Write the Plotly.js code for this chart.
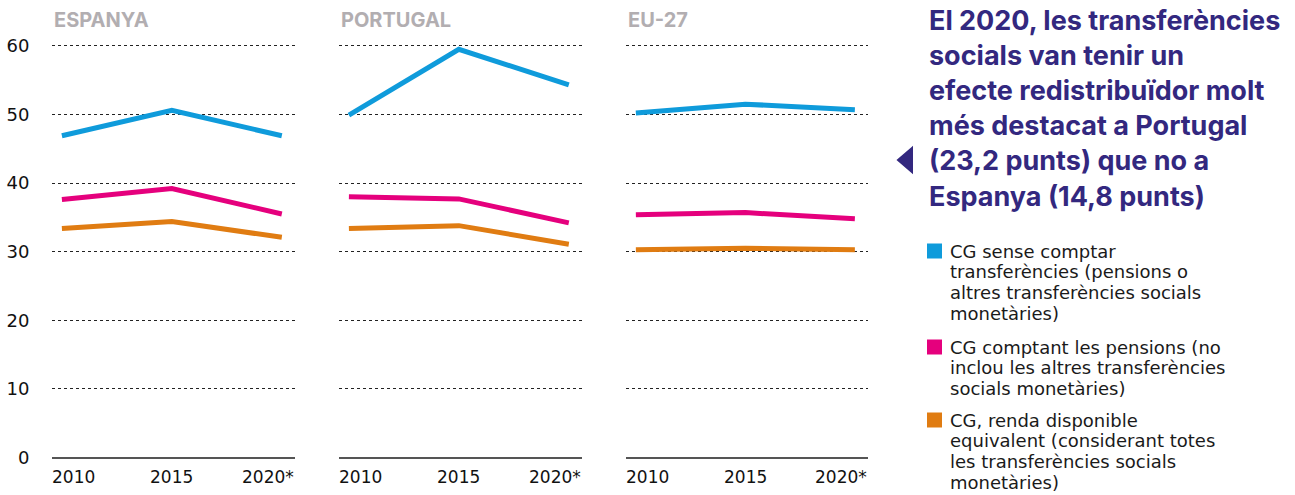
<!DOCTYPE html>
<html>
<head>
<meta charset="utf-8">
<script src="https://cdn.plot.ly/plotly-3.0.1.min.js"></script>
<style>html,body{margin:0;padding:0;background:#fff;}#chart{width:1295px;height:495px;}</style>
</head>
<body>
<div id="chart"></div>
<script>
const years = ["2010", "2015", "2020*"];
const panels = ["ESPANYA", "PORTUGAL", "EU-27"];
const seriesLabels = [
  ["CG sense comptar", "transferències (pensions o", "altres transferències socials", "monetàries)"],
  ["CG comptant les pensions (no", "inclou les altres transferències", "socials monetàries)"],
  ["CG, renda disponible", "equivalent (considerant totes", "les transferències socials", "monetàries)"]
];
const colors = ["#0f9bdb", "#e5007d", "#e07c12"];
// values per panel: [sense transferències, amb pensions, renda disponible]
const espanya_sense = [46.9, 50.6, 46.9];
const espanya_pensions = [37.6, 39.2, 35.5];
const espanya_renda = [33.4, 34.4, 32.1];
const portugal_sense = [49.9, 59.5, 54.3];
const portugal_pensions = [38.0, 37.7, 34.2];
const portugal_renda = [33.4, 33.8, 31.1];
const eu_sense = [50.2, 51.5, 50.7];
const eu_pensions = [35.4, 35.7, 34.8];
const eu_renda = [30.3, 30.5, 30.3];
const yTicks = [0, 10, 20, 30, 40, 50, 60];
const titleText = "El 2020, les transferències<br>socials van tenir un<br>efecte redistribuïdor molt<br>més destacat a Portugal<br>(23,2 punts) que no a<br>Espanya (14,8 punts)";

const panelData = [
  [espanya_sense, espanya_pensions, espanya_renda],
  [portugal_sense, portugal_pensions, portugal_renda],
  [eu_sense, eu_pensions, eu_renda]
];

const W = 1295, H = 495, MT = 39, MB = 34;
const PH = H - MT - MB;
const px2x = px => px / W;
const px2y = py => (H - MB - py) / PH;

const HEAD = "Inter, 'Open Sans', sans-serif";
const BODY = "'DejaVu Sans', sans-serif";
const INK = "#33287f";

const traces = [];
panelData.forEach((series, p) => {
  const xa = p === 0 ? "x" : "x" + (p + 1);
  const ya = p === 0 ? "y" : "y" + (p + 1);
  series.forEach((vals, s) => {
    traces.push({
      type: "scatter", mode: "lines", x: years, y: vals,
      xaxis: xa, yaxis: ya, showlegend: false, hoverinfo: "skip",
      line: {color: colors[s], width: 5}
    });
  });
});

const domains = [[52, 295], [339, 582], [626, 868]];
const layout = {
  width: W, height: H,
  margin: {l: 0, r: 0, t: MT, b: MB, autoexpand: false},
  paper_bgcolor: "#fff", plot_bgcolor: "#fff",
  font: {family: BODY, size: 17, color: "#111"},
  showlegend: false,
  annotations: [],
  shapes: []
};
domains.forEach((d, p) => {
  const sfx = p === 0 ? "" : String(p + 1);
  layout["xaxis" + sfx] = {
    domain: [px2x(d[0]), px2x(d[1])], type: "category", range: [-0.09, 2.12],
    showgrid: false, zeroline: false, showline: false, showticklabels: false,
    anchor: "y" + sfx, fixedrange: true
  };
  layout["yaxis" + sfx] = {
    domain: [0, 1], range: [-0.5, 61], anchor: "x" + sfx,
    tickvals: yTicks, showticklabels: p === 0,
    ticks: p === 0 ? "outside" : "", ticklen: 18, tickcolor: "rgba(0,0,0,0)",
    tickfont: {family: BODY, size: 18, color: "#111"},
    showgrid: true, gridcolor: "#222", gridwidth: 1, griddash: "dot",
    zeroline: true, zerolinecolor: "#555", zerolinewidth: 2,
    showline: false, fixedrange: true
  };
  layout.annotations.push({
    text: "<b>" + panels[p] + "</b>", xref: "x" + sfx + " domain", yref: "paper",
    x: 0, y: px2y(20), xanchor: "left", yanchor: "middle", showarrow: false,
    font: {family: HEAD, size: 20, color: "#b2aeb1"}
  });
  years.forEach((yr, i) => {
    const last = years.length - 1;
    layout.annotations.push({
      text: yr, xref: "x" + sfx, yref: "paper", x: i, y: px2y(477),
      xanchor: i === 0 ? "left" : (i === last ? "right" : "center"),
      xshift: i === 0 ? -12 : (i === last ? 14 : 0),
      yanchor: "middle", showarrow: false,
      font: {family: BODY, size: 17, color: "#111"}
    });
  });
});

// title
layout.annotations.push({
  text: "<b>" + titleText + "</b>", xref: "paper", yref: "paper",
  x: px2x(927), y: px2y(108.5), xanchor: "left", yanchor: "middle", align: "left",
  showarrow: false,
  font: {family: HEAD, size: 27, color: INK}
});
// pointer triangle
layout.shapes.push({
  type: "path", xref: "paper", yref: "paper",
  path: `M ${px2x(912)} ${px2y(148)} L ${px2x(898)} ${px2y(160)} L ${px2x(912)} ${px2y(172)} Z`,
  fillcolor: INK, line: {color: INK, width: 2}
});

// legend: colour squares + text lines
const legendStarts = [251, 347, 420];
const lineGap = 20.9;
seriesLabels.forEach((lines, s) => {
  const y0 = legendStarts[s];
  layout.shapes.push({
    type: "rect", xref: "paper", yref: "paper",
    x0: px2x(927), x1: px2x(942), y0: px2y(y0 - 7.5), y1: px2y(y0 + 7.5),
    fillcolor: colors[s], line: {width: 0}
  });
  lines.forEach((t, k) => {
    layout.annotations.push({
      text: t, xref: "paper", yref: "paper",
      x: px2x(948), y: px2y(y0 + k * lineGap), xanchor: "left", yanchor: "middle",
      showarrow: false, font: {family: BODY, size: 18, color: "#1a1a1a"}
    });
  });
});

Plotly.newPlot("chart", traces, layout, {displayModeBar: false, staticPlot: true});
</script>
</body>
</html>
